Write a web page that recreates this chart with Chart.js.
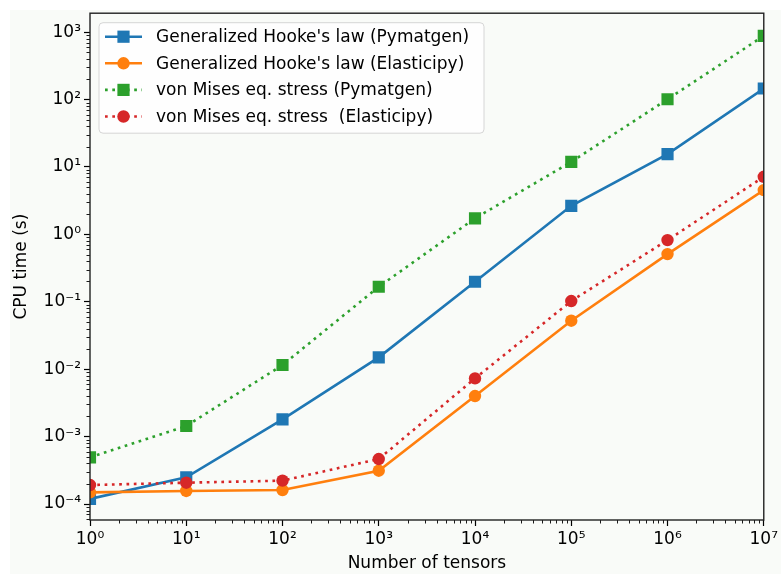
<!DOCTYPE html>
<html><head><meta charset="utf-8">
<script src="https://cdn.jsdelivr.net/npm/chart.js@4"></script>
<style>html,body{margin:0;padding:0;background:#fff;overflow:hidden;} canvas{display:block;}</style>
</head><body><canvas id="c" width="781" height="574"></canvas>
<script>
// ---- data ----
const tensorCounts = [1, 10, 100, 1e3, 1e4, 1e5, 1e6, 1e7];
const hookePymatgen   = [1.19e-4, 2.49e-4, 1.80e-3, 0.0150, 0.198, 2.65, 15.5, 146];
const hookeElasticipy = [1.49e-4, 1.56e-4, 1.61e-4, 3.12e-4, 4.0e-3, 0.0524, 0.51, 4.54];
const vmPymatgen      = [4.93e-4, 1.435e-3, 0.01153, 0.167, 1.73, 11.9, 101, 881];
const vmElasticipy    = [1.91e-4, 2.07e-4, 2.22e-4, 4.65e-4, 7.3e-3, 0.1026, 0.822, 7.14];
const seriesLabels = ["Generalized Hooke's law (Pymatgen)", "Generalized Hooke's law (Elasticipy)",
                      "von Mises eq. stress (Pymatgen)", "von Mises eq. stress  (Elasticipy)"];
const xTickValues = [1, 10, 100, 1e3, 1e4, 1e5, 1e6, 1e7];
const xTickLabels = ['10⁰','10¹','10²','10³','10⁴','10⁵','10⁶','10⁷'];
const yTickValues = [1e-4, 1e-3, 1e-2, 1e-1, 1, 10, 100, 1000];
const yTickLabels = ['10⁻⁴','10⁻³','10⁻²','10⁻¹','10⁰','10¹','10²','10³'];
const xTitle = 'Number of tensors';
const yTitle = 'CPU time (s)';

const FONT = "'DejaVu Sans', sans-serif";
const FS = 17;
const colors = ['#1f77b4', '#ff7f0e', '#2ca02c', '#d62728'];
const styles = ['rect', 'circle', 'rect', 'circle'];
const dotted = [false, false, true, true];
const allSeries = [hookePymatgen, hookeElasticipy, vmPymatgen, vmElasticipy];

const datasets = allSeries.map((arr, i) => ({
  label: seriesLabels[i],
  data: tensorCounts.map((x, j) => ({x: x, y: arr[j]})),
  borderColor: colors[i],
  backgroundColor: colors[i],
  borderWidth: 2.6,
  borderDash: dotted[i] ? [2.7, 4.6] : [],
  borderCapStyle: 'butt',
  pointStyle: styles[i],
  pointRadius: styles[i] === 'rect' ? 8.6 : 6.2,
  pointBorderWidth: 0,
  pointHoverRadius: styles[i] === 'rect' ? 8.6 : 6.2,
  tension: 0,
  showLine: true,
  clip: 0,
  order: 3 - i
}));

const bgPlugin = {
  id: 'bg',
  beforeDraw(chart) {
    const ctx = chart.ctx;
    ctx.save();
    ctx.fillStyle = '#ffffff';
    ctx.fillRect(0, 0, chart.width, chart.height);
    ctx.fillStyle = '#f9fbf8';
    ctx.fillRect(10, 10, chart.width - 10, chart.height - 10);
    ctx.restore();
  }
};

const framePlugin = {
  id: 'frame',
  afterDatasetsDraw(chart) {
    const ctx = chart.ctx, a = chart.chartArea;
    const xs = chart.scales.x, ys = chart.scales.y;
    ctx.save();
    ctx.strokeStyle = '#000';
    ctx.lineWidth = 0.9;
    ctx.beginPath();
    for (let k = -5; k <= 7; k++) {
      for (let m = 2; m <= 9; m++) {
        const v = m * Math.pow(10, k);
        if (v > xs.min && v < xs.max) {
          const px = Math.round(xs.getPixelForValue(v)) + 0.5;
          ctx.moveTo(px, a.bottom); ctx.lineTo(px, a.bottom + 3.5);
        }
        if (v > ys.min && v < ys.max) {
          const py = Math.round(ys.getPixelForValue(v)) + 0.5;
          ctx.moveTo(a.left, py); ctx.lineTo(a.left - 3.5, py);
        }
      }
    }
    ctx.stroke();
    ctx.strokeStyle = '#222';
    ctx.lineWidth = 1.4;
    ctx.strokeRect(a.left, a.top, a.right - a.left, a.bottom - a.top);
    ctx.restore();
  }
};

const legendPlugin = {
  id: 'mplLegend',
  afterDraw(chart) {
    const ctx = chart.ctx, a = chart.chartArea;
    const x0 = a.left + 9, y0 = a.top + 9.5, w = 385, h = 110.5, r = 4;
    ctx.save();
    ctx.beginPath();
    ctx.roundRect(x0, y0, w, h, r);
    ctx.fillStyle = 'rgba(255,255,255,0.8)';
    ctx.fill();
    ctx.strokeStyle = '#d6d6d6';
    ctx.lineWidth = 1;
    ctx.stroke();
    ctx.font = FS + 'px ' + FONT;
    ctx.textBaseline = 'middle';
    chart.data.datasets.forEach((ds, i) => {
      const cy = y0 + 14 + i * 26.6;
      const lx0 = x0 + 6, lx1 = x0 + 43, mx = (lx0 + lx1) / 2;
      ctx.beginPath();
      ctx.setLineDash(ds.borderDash);
      ctx.lineCap = 'butt';
      ctx.strokeStyle = ds.borderColor;
      ctx.lineWidth = ds.borderWidth;
      ctx.moveTo(lx0, cy); ctx.lineTo(lx1, cy);
      ctx.stroke();
      ctx.setLineDash([]);
      ctx.fillStyle = ds.backgroundColor;
      if (ds.pointStyle === 'rect') {
        const s = 12.2;
        ctx.fillRect(mx - s / 2, cy - s / 2, s, s);
      } else {
        ctx.beginPath();
        ctx.arc(mx, cy, 6.2, 0, Math.PI * 2);
        ctx.fill();
      }
      ctx.fillStyle = '#000';
      ctx.fillText(ds.label, x0 + 57, cy + 1);
    });
    ctx.restore();
  }
};

const labelFor = (values, labels) => (v) => {
  const i = values.findIndex(t => Math.abs(Math.log10(t) - Math.log10(v)) < 1e-6);
  return i >= 0 ? labels[i] : '';
};

new Chart(document.getElementById('c'), {
  type: 'scatter',
  data: { datasets },
  options: {
    responsive: false,
    animation: false,
    layout: { padding: { left: 0, top: 13, right: 16, bottom: 0 } },
    plugins: { legend: { display: false }, tooltip: { enabled: false } },
    scales: {
      x: {
        type: 'logarithmic',
        position: 'bottom',
        min: 1, max: 1e7,
        afterBuildTicks(s) { s.ticks = xTickValues.map(v => ({value: v, major: true})); },
        afterFit(s) { s.height = 54; },
        ticks: {
          autoSkip: false, maxRotation: 0, minRotation: 0, padding: 3,
          color: '#000', font: { family: FONT, size: FS },
          callback: labelFor(xTickValues, xTickLabels)
        },
        grid: { display: true, drawOnChartArea: false, drawTicks: true, tickLength: 6, tickColor: '#000', tickWidth: 1.2 },
        border: { display: false },
        title: { display: true, text: xTitle, color: '#000', font: { family: FONT, size: FS }, padding: { top: 0, bottom: 0 } }
      },
      y: {
        type: 'logarithmic',
        position: 'left',
        min: 5.79e-5, max: 1.91e3,
        afterBuildTicks(s) { s.ticks = yTickValues.map(v => ({value: v, major: true})); },
        afterFit(s) { s.width = 90; },
        ticks: {
          autoSkip: false, padding: 3,
          color: '#000', font: { family: FONT, size: FS },
          callback: labelFor(yTickValues, yTickLabels)
        },
        grid: { display: true, drawOnChartArea: false, drawTicks: true, tickLength: 6, tickColor: '#000', tickWidth: 1.2 },
        border: { display: false },
        title: { display: true, text: yTitle, color: '#000', font: { family: FONT, size: FS }, padding: { top: 11, bottom: 0 } }
      }
    }
  },
  plugins: [bgPlugin, framePlugin, legendPlugin]
});
</script>
</body></html>
